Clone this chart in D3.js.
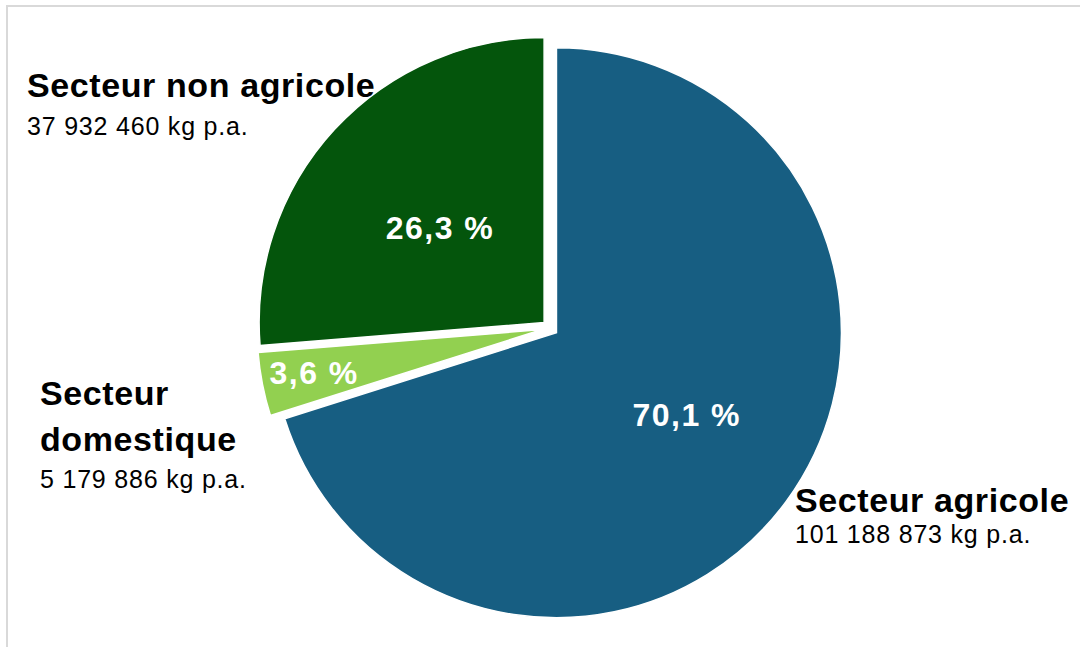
<!DOCTYPE html>
<html>
<head>
<meta charset="utf-8">
<script src="https://cdn.jsdelivr.net/npm/d3@7"></script>
<style>
  body { margin: 0; background: #fff; }
  svg { display: block; }
</style>
</head>
<body>
<svg id="chart" width="1080" height="647"></svg>
<script>
// donnees (kg de p.a.)
const categories = ["Secteur agricole", "Secteur domestique", "Secteur non agricole"];
const values = [101188873, 5179886, 37932460];
const valueLabels = ["101 188 873 kg p.a.", "5 179 886 kg p.a.", "37 932 460 kg p.a."];
const pctLabels = ["70,1 %", "3,6 %", "26,3 %"];
const colors = ["#175e82", "#92d050", "#04550c"];

const width = 1080, height = 647;
const cx = 550, cy = 328;
const radius = 285;
const explode = 8;

const svg = d3.select("#chart");

// cadre du graphique
svg.append("rect")
  .attr("x", 7).attr("y", 6)
  .attr("width", width + 20).attr("height", height + 20)
  .attr("fill", "none")
  .attr("stroke", "#d9d9d9")
  .attr("stroke-width", 2);

const data = categories.map((c, i) => ({ name: c, value: values[i], i: i }));

const pie = d3.pie().sort(null).value(d => d.value);
const arcs = pie(data);

const arc = d3.arc().innerRadius(0).outerRadius(radius);

const g = svg.append("g").attr("transform", "translate(" + cx + "," + cy + ")");

g.selectAll("path")
  .data(arcs)
  .enter()
  .append("path")
  .attr("d", arc)
  .attr("fill", d => colors[d.data.i])
  .attr("stroke", "#fff")
  .attr("stroke-width", 1.5)
  .attr("transform", d => {
    const a = (d.startAngle + d.endAngle) / 2;
    return "translate(" + (explode * Math.sin(a)) + "," + (-explode * Math.cos(a)) + ")";
  });

// pourcentages dans les parts (rayon et petit decalage d'angle, en degres)
const labelRadius = [162, 240, 149];
const labelShift = [-3.8, 0.5, -0.3];
const labelAngle = d => (d.startAngle + d.endAngle) / 2 + labelShift[d.data.i] * Math.PI / 180;

g.selectAll("text.pct")
  .data(arcs)
  .enter()
  .append("text")
  .attr("class", "pct")
  .attr("x", d => labelRadius[d.data.i] * Math.sin(labelAngle(d)))
  .attr("y", d => -labelRadius[d.data.i] * Math.cos(labelAngle(d)))
  .attr("dy", "0.36em")
  .attr("text-anchor", "middle")
  .style("font-family", "'Liberation Sans', Arial, sans-serif")
  .style("font-weight", "bold")
  .style("font-size", "32px")
  .style("letter-spacing", "1.5px")
  .style("fill", "#fff")
  .text(d => pctLabels[d.data.i]);

// etiquettes des categories
const catPos = [
  { x: 795, lines: ["Secteur agricole"], y: 512, vy: 543 },
  { x: 40, lines: ["Secteur", "domestique"], y: 405, vy: 488 },
  { x: 27, lines: ["Secteur non agricole"], y: 97, vy: 135 }
];

data.forEach((d, i) => {
  const p = catPos[i];
  const t = svg.append("text")
    .attr("x", p.x)
    .attr("y", p.y)
    .style("font-family", "'Liberation Sans', Arial, sans-serif")
    .style("font-weight", "bold")
    .style("font-size", "34px")
    .style("letter-spacing", "0.6px")
    .style("fill", "#000");
  p.lines.forEach((l, k) => {
    t.append("tspan").attr("x", p.x).attr("dy", k === 0 ? 0 : 46).text(l);
  });
  svg.append("text")
    .attr("x", p.x)
    .attr("y", p.vy)
    .style("font-family", "'Liberation Sans', Arial, sans-serif")
    .style("font-size", "25px")
    .style("letter-spacing", "0.8px")
    .style("fill", "#000")
    .text(valueLabels[i]);
});
</script>
</body>
</html>
